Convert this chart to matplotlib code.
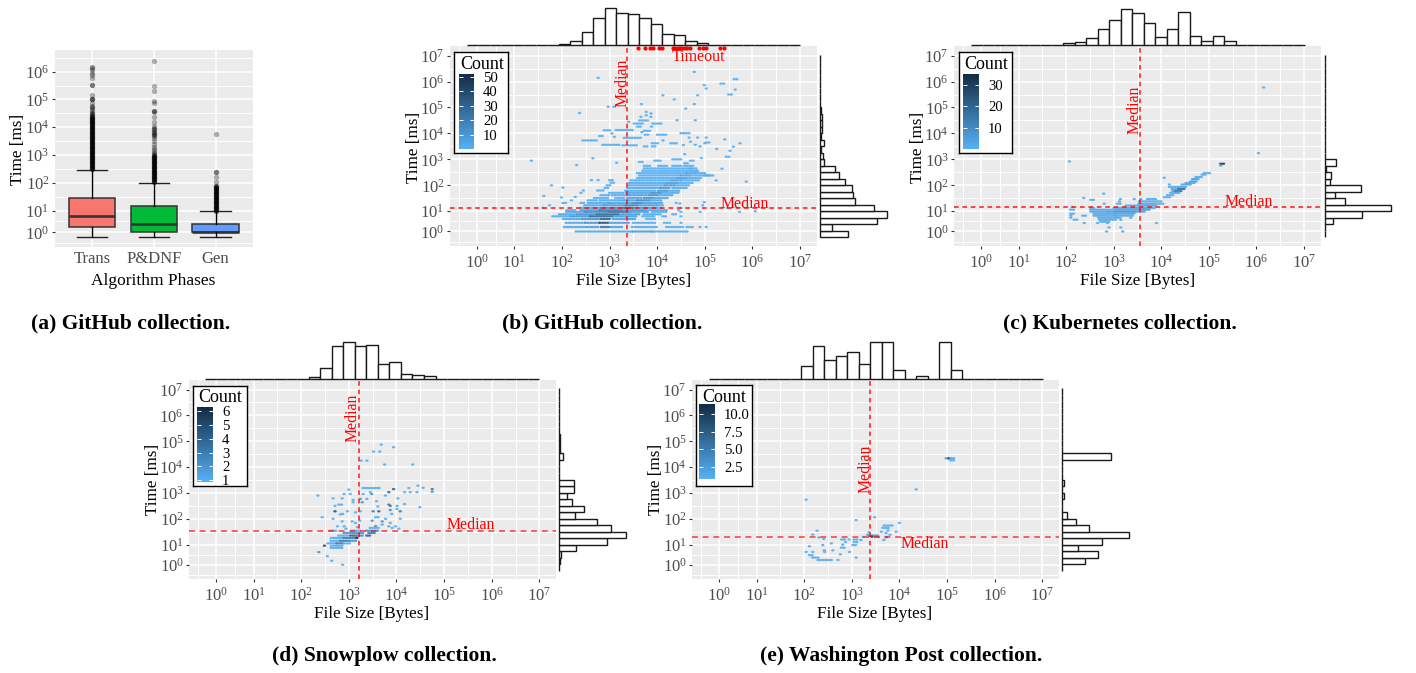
import numpy as np
import matplotlib
matplotlib.use("Agg")
import matplotlib.pyplot as plt
from matplotlib.colors import LinearSegmentedColormap, Normalize
from matplotlib.cm import ScalarMappable
from matplotlib.ticker import FixedLocator, FixedFormatter, NullFormatter

plt.rcParams['font.family'] = ['Liberation Serif', 'DejaVu Serif']
plt.rcParams['mathtext.fontset'] = 'custom'
plt.rcParams['mathtext.rm'] = 'Liberation Serif'
plt.rcParams['mathtext.it'] = 'Liberation Serif:italic'
plt.rcParams['mathtext.bf'] = 'Liberation Serif:bold'

# ---------- data: boxplot ----------
phases = ['Trans', 'P&DNF', 'Gen']
box_low = [0.59, 0.59, 0.59]
box_q1 = [1.74, 1.0, 1.0]
box_med = [5.5, 2.45, 1.03]
box_q3 = [29.5, 14.3, 2.45]
box_high = [295, 100, 9.2]
box_colors = ['#F8766D', '#00BA38', '#619CFF']
trans_out_log = [6.18, 6.12, 6.05, 5.94, 5.88, 5.76, 5.52, 5.52, 5.16, 5.02, 5.02, 5.02, 4.86, 4.78, 4.73, 4.68,
                 4.61, 4.56, 4.52, 4.48, 4.44, 4.4, 4.38, 4.36, 4.34, 4.32, 4.3, 4.28, 4.26, 4.24, 4.22, 4.2,
                 4.18, 4.16, 4.14, 4.12, 4.1, 4.08, 4.06, 4.04, 4.02, 4.0, 3.98, 3.96, 3.94, 3.92, 3.9, 3.88,
                 3.86, 3.84, 3.82, 3.8, 3.78, 3.76, 3.74, 3.72, 3.7, 3.68, 3.66, 3.64, 3.62, 3.6, 3.58, 3.56,
                 3.54, 3.52, 3.5, 3.48, 3.46, 3.44, 3.42, 3.4, 3.38, 3.36, 3.34, 3.32, 3.3, 3.28, 3.26, 3.24,
                 3.22, 3.2, 3.18, 3.16, 3.14, 3.12, 3.1, 3.08, 3.06, 3.04, 3.02, 3.0, 2.98, 2.96, 2.94, 2.92,
                 2.9, 2.88, 2.86, 2.84, 2.82, 2.8, 2.78, 2.76, 2.74, 2.72, 2.7, 2.68, 2.66, 2.64, 2.62, 2.6,
                 2.58, 2.56, 2.54, 2.52, 2.5, 2.48]
pdnf_out_log = [6.39, 5.49, 5.3, 4.95, 4.86, 4.57, 4.57, 4.55, 4.37, 4.19, 4.04, 3.98, 3.94, 3.89, 3.84, 3.8,
                3.75, 3.71, 3.68, 3.6, 3.5, 3.41, 3.3, 3.22, 3.14, 3.08, 3.04, 3.0, 2.98, 2.96, 2.94, 2.92, 2.9,
                2.88, 2.86, 2.84, 2.82, 2.8, 2.78, 2.76, 2.74, 2.72, 2.7, 2.68, 2.66, 2.64, 2.62, 2.6, 2.58, 2.56,
                2.54, 2.52, 2.5, 2.48, 2.46, 2.44, 2.42, 2.4, 2.38, 2.36, 2.34, 2.32, 2.3, 2.28, 2.26, 2.24, 2.22,
                2.2, 2.18, 2.16, 2.14, 2.12, 2.1, 2.08, 2.06, 2.04, 2.02]
gen_out_log = [3.76, 2.39, 2.39, 2.2, 2.02, 1.9, 1.88, 1.86, 1.84, 1.82, 1.8, 1.78, 1.76, 1.74, 1.72, 1.7, 1.68, 1.66,
               1.64, 1.62, 1.6, 1.58, 1.56, 1.54, 1.52, 1.5, 1.48, 1.46, 1.44, 1.42, 1.4, 1.38, 1.36, 1.34, 1.32,
               1.3, 1.28, 1.26, 1.24, 1.22, 1.2, 1.18, 1.16, 1.14, 1.12, 1.1, 1.08, 1.06, 1.04, 1.02, 1.0, 0.98]

# ---------- data: histograms (relative heights) ----------
b_top = [0, 0, 0, 0, 0, .5, .5, .5, 3, 12, 40, 80, 110, 97, 94, 81, 64, 34, 32, 13, 7, 2, 1, 1, 1, 1, 1, .5, .5]
b_right = [85, 35, 172, 200, 162, 105, 100, 95, 75, 57, 45, 12, 8, 3, 12, 4, 7, 7, 7, 3, 1, 1, 1, 1, 1, 1, 1, 1]
c_top = [0, 0, 0, 0, 0, 0, 0, 0, 7, 9, 22, 48, 74, 109, 95, 65, 24, 50, 100, 28, 13, 27, 12, 0, 0, 2, 0, 0, 0]
c_right = [2, 2, 26, 112, 200, 62, 32, 110, 17, 18, 3, 35, 1, .5, .5, .5, .5, .5, .5, .5, .5, 2, .5, .5, .5, .5, .5, .5]
d_top = [0, 0, 0, 0, 0, 0, 0, 0, 0, 4, 32, 97, 110, 98, 100, 44, 50, 14, 11, 7, 0, 0, 0, 0, 0, 0, 0, 0, 0]
d_right = [1, 2, 7, 52, 145, 200, 155, 114, 47, 76, 38, 25, 44, 44, 0, 0, 0, 12, 3, 4, 3, .5, .5, .5, .5, .5, .5, .5]
e_top = [0, 0, 0, 0, 0, 0, 0, 0, 38, 98, 56, 68, 80, 44, 110, 110, 26, 0, 8, 0, 110, 26, 0, 0, 0, 0, 0, 0, 0]
e_right = [0, 67, 108, 48, 120, 200, 80, 41, 15, 0, 0, 7, 0, 7, 0, 0, 0, 147, 0, 0, 0, 0, 0, 0, 0, 0, 0, 0]

# ---------- data: binned cells (log10 time, log10 size from, log10 size to, count) ----------
b_cells = [
    (0.00, 2.30, 3.5, 3), (0.00, 3.5, 3.9, 8), (0.00, 3.9, 4.65, 2),
    (0.22, 2.02, 2.5, 3), (0.22, 2.5, 2.8, 7), (0.22, 2.8, 3.0, 24), (0.22, 3.0, 3.28, 6), (0.22, 3.45, 4.0, 2),
    (0.22, 4.17, 4.55, 1), (0.22, 4.6, 4.75, 1), (0.22, 4.9, 4.9, 1), (0.22, 5.03, 5.03, 1),
    (0.43, 2.09, 2.5, 4), (0.43, 2.5, 2.8, 10), (0.43, 2.8, 3.0, 36), (0.43, 3.0, 3.4, 7), (0.43, 3.5, 3.95, 2),
    (0.43, 4.15, 4.3, 1), (0.43, 4.5, 4.5, 1),
    (0.62, 2.0, 2.4, 4), (0.62, 2.4, 2.8, 12), (0.62, 2.8, 3.05, 30), (0.62, 3.05, 3.55, 7), (0.62, 3.75, 4.0, 1),
    (0.75, 1.81, 2.2, 2), (0.75, 2.2, 2.6, 10), (0.75, 2.6, 3.1, 26), (0.75, 3.1, 3.6, 8), (0.75, 3.7, 3.95, 1),
    (0.75, 4.12, 4.2, 1), (0.75, 4.5, 4.5, 1),
    (0.85, 1.92, 2.3, 3), (0.85, 2.3, 2.7, 12), (0.85, 2.7, 3.2, 28), (0.85, 3.2, 3.65, 8), (0.85, 3.7, 4.1, 2),
    (0.85, 4.3, 4.4, 1),
    (0.97, 2.1, 2.5, 4), (0.97, 2.5, 3.0, 14), (0.97, 3.0, 3.4, 24), (0.97, 3.4, 3.8, 6), (0.97, 3.9, 4.2, 1),
    (0.97, 4.5, 4.5, 1), (0.97, 4.9, 4.9, 1), (0.97, 5.73, 5.73, 1), (1.0, 6.06, 6.06, 1),
    (1.04, 2.1, 2.3, 1), (1.04, 2.4, 2.8, 7), (1.04, 2.8, 3.3, 20), (1.04, 3.3, 3.8, 9), (1.04, 3.8, 4.2, 2),
    (1.04, 4.45, 4.5, 1),
    (1.13, 2.37, 2.8, 4), (1.13, 2.8, 3.3, 14), (1.13, 3.3, 3.55, 28), (1.13, 3.55, 4.0, 8), (1.13, 4.0, 4.1, 1),
    (1.13, 4.5, 4.5, 1), (1.13, 5.48, 5.48, 1), (1.13, 1.6, 1.6, 1),
    (1.23, 2.48, 2.9, 2), (1.23, 2.9, 3.35, 8), (1.23, 3.35, 3.6, 18), (1.23, 3.6, 4.0, 7), (1.23, 4.0, 4.12, 2),
    (1.23, 4.96, 4.97, 1), (1.23, 1.74, 1.74, 1), (1.3, 4.48, 4.48, 1),
    (1.32, 2.4, 2.5, 1), (1.32, 2.55, 3.0, 2), (1.32, 3.0, 3.5, 5), (1.32, 3.5, 3.7, 16), (1.32, 3.7, 4.12, 6),
    (1.32, 4.4, 4.45, 1), (1.35, 4.99, 4.99, 1), (1.32, 2.02, 2.08, 1),
    (1.42, 2.55, 2.75, 1), (1.42, 2.8, 3.3, 2), (1.42, 3.3, 3.6, 5), (1.42, 3.6, 3.85, 14), (1.42, 3.85, 4.12, 4),
    (1.42, 2.2, 2.25, 1),
    (1.51, 2.65, 3.0, 1), (1.51, 3.1, 3.35, 1), (1.51, 3.35, 3.7, 5), (1.51, 3.7, 3.9, 12), (1.51, 3.9, 4.26, 4),
    (1.53, 1.99, 1.99, 1), (1.59, 1.62, 1.62, 1), (1.55, 2.28, 2.28, 1),
    (1.62, 2.79, 3.0, 1), (1.62, 3.03, 3.4, 1), (1.62, 3.4, 3.8, 5), (1.62, 3.8, 4.0, 12), (1.62, 4.0, 4.36, 3),
    (1.71, 3.0, 3.28, 1), (1.71, 3.35, 3.9, 4), (1.71, 3.9, 4.1, 12), (1.71, 4.1, 4.47, 2), (1.71, 2.4, 2.45, 1),
    (1.79, 3.31, 4.0, 3), (1.79, 4.0, 4.2, 10), (1.79, 4.2, 4.47, 2), (1.8, 2.45, 2.5, 1), (1.8, 2.75, 2.9, 1),
    (1.9, 3.35, 4.05, 3), (1.9, 4.05, 4.3, 10), (1.9, 4.3, 4.61, 2), (1.91, 2.02, 2.02, 1), (1.9, 2.88, 3.0, 1),
    (2.0, 3.38, 4.15, 2), (2.0, 4.15, 4.35, 9), (2.0, 4.35, 4.68, 1), (2.0, 1.78, 1.78, 1), (2.0, 2.92, 3.05, 1),
    (2.09, 3.42, 4.2, 2), (2.09, 4.2, 4.45, 8), (2.09, 4.45, 4.75, 1), (2.1, 3.0, 3.1, 1),
    (2.19, 3.42, 4.3, 1), (2.19, 4.3, 4.5, 7), (2.19, 4.5, 4.89, 1), (2.19, 5.24, 5.24, 1), (2.2, 2.62, 2.62, 1),
    (2.2, 2.76, 2.76, 1), (2.2, 3.0, 3.08, 1), (2.14, 5.87, 5.87, 1),
    (2.28, 3.56, 4.4, 1), (2.28, 4.4, 4.6, 7), (2.28, 4.6, 4.96, 1),
    (2.38, 3.63, 4.5, 1), (2.38, 4.5, 4.7, 6), (2.38, 4.7, 5.1, 1), (2.38, 5.0, 5.2, 1),
    (2.47, 3.56, 4.6, 1), (2.47, 4.6, 4.8, 5), (2.47, 4.8, 5.03, 1),
    (2.56, 3.7, 4.65, 1), (2.56, 4.65, 4.85, 4), (2.56, 4.85, 4.89, 1),
    (2.65, 3.73, 4.7, 1), (2.65, 4.7, 4.85, 3), (2.64, 5.36, 5.36, 1),
    (2.75, 3.7, 3.85, 1), (2.75, 4.0, 4.2, 1), (2.75, 4.3, 4.5, 1), (2.75, 4.55, 4.75, 1),
    (2.78, 2.31, 2.31, 1), (2.87, 3.15, 3.15, 1), (2.95, 1.36, 1.36, 1), (3.04, 2.65, 2.65, 1),
    (2.9, 3.6, 3.7, 1), (2.95, 3.95, 4.1, 1), (3.0, 4.3, 4.5, 1), (2.95, 4.7, 4.8, 1), (2.85, 4.55, 4.65, 1),
    (3.1, 5.45, 5.55, 1), (3.05, 4.9, 4.98, 1), (3.2, 4.55, 4.6, 1), (3.33, 5.53, 5.53, 1), (3.49, 5.6, 5.6, 1),
    (3.62, 5.74, 5.74, 1), (3.4, 5.25, 5.25, 1), (3.77, 5.42, 5.42, 1), (3.62, 5.0, 5.0, 1), (3.5, 4.9, 4.9, 1),
    (3.56, 2.86, 3.2, 1), (3.54, 3.28, 3.6, 1), (3.5, 3.7, 3.8, 1), (3.62, 3.87, 4.05, 1), (3.5, 3.87, 4.0, 1),
    (3.62, 4.26, 4.4, 1), (3.68, 4.7, 4.7, 1), (3.55, 4.55, 4.55, 1), (3.56, 4.8, 4.85, 1), (3.65, 5.03, 5.1, 1),
    (3.73, 2.44, 2.75, 1), (3.83, 3.31, 3.66, 1), (3.87, 3.1, 3.1, 1), (3.9, 2.76, 2.85, 1), (3.95, 3.75, 3.85, 1),
    (3.95, 4.01, 4.19, 1), (4.01, 4.5, 4.68, 1), (3.84, 4.67, 4.67, 1), (3.84, 4.85, 4.85, 1), (3.84, 5.03, 5.03, 1),
    (3.73, 4.12, 4.12, 1), (4.1, 3.73, 3.87, 1), (4.12, 2.86, 3.0, 1), (4.13, 3.14, 3.49, 1), (4.05, 3.68, 3.68, 1),
    (4.0, 3.05, 3.05, 1), (4.26, 3.56, 3.66, 1), (4.26, 3.88, 3.88, 1), (4.38, 3.52, 3.73, 1), (4.38, 3.91, 4.12, 1),
    (4.45, 3.4, 3.4, 1), (4.5, 3.63, 3.8, 1), (4.51, 4.42, 4.42, 1), (4.51, 4.8, 4.8, 1), (4.64, 3.66, 3.66, 1),
    (4.64, 3.87, 3.87, 1), (4.7, 3.77, 3.77, 1), (4.77, 3.87, 3.87, 1), (4.83, 3.77, 3.77, 1), (4.79, 2.37, 2.37, 1),
    (4.96, 4.6, 4.6, 1), (5.03, 2.97, 2.97, 1), (5.03, 3.09, 3.09, 1), (5.13, 3.67, 3.67, 1), (5.13, 4.78, 4.78, 1),
    (5.31, 4.36, 4.36, 1), (5.47, 4.12, 4.12, 1), (5.47, 4.85, 4.85, 1), (5.5, 5.5, 5.57, 1), (5.69, 5.64, 5.64, 1),
    (5.73, 5.03, 5.06, 1), (5.86, 4.99, 4.99, 1), (5.92, 5.34, 5.45, 1), (6.09, 5.59, 5.71, 1), (6.14, 2.76, 2.76, 1),
    (6.37, 4.78, 4.78, 1),
]
b_timeouts = [3.59, 3.75, 3.85, 3.91, 4.03, 4.1, 4.33, 4.38, 4.43, 4.48, 4.53, 4.58, 4.63, 4.69, 4.87, 4.97, 5.03, 5.32, 5.41]

c_cells = [
    (2.92, 2.07, 2.07, 1), (2.83, 5.25, 5.34, 30), (2.76, 5.25, 5.25, 2), (2.29, 4.06, 4.06, 1), (3.24, 6.04, 6.04, 1),
    (5.77, 6.15, 6.15, 1),
    (2.47, 4.9, 5.02, 1), (2.41, 4.83, 4.94, 2), (2.32, 4.73, 4.87, 2), (2.24, 4.66, 4.8, 4), (2.15, 4.59, 4.76, 3),
    (2.09, 4.52, 4.69, 2), (2.03, 4.17, 4.17, 1), (2.03, 4.41, 4.62, 3), (1.94, 4.17, 4.52, 2),
    (1.86, 4.2, 4.34, 2), (1.86, 4.34, 4.48, 18), (1.78, 4.24, 4.3, 2), (1.78, 4.3, 4.45, 14), (1.71, 4.17, 4.38, 2),
    (1.62, 4.1, 4.27, 1), (1.54, 4.06, 4.2, 1), (1.68, 2.79, 2.79, 1), (1.51, 2.37, 2.37, 1),
    (1.47, 3.71, 3.92, 2), (1.47, 3.14, 3.14, 1), (1.47, 3.43, 3.43, 1), (1.47, 3.57, 3.57, 1), (1.44, 2.49, 2.59, 1),
    (1.38, 3.12, 3.12, 1), (1.38, 3.54, 4.03, 2), (1.29, 2.8, 2.8, 1), (1.29, 3.05, 3.15, 2), (1.29, 3.5, 4.06, 2),
    (1.22, 3.26, 3.4, 2), (1.22, 3.43, 3.92, 3), (1.13, 2.52, 2.63, 1), (1.13, 3.01, 3.89, 3), (1.16, 2.1, 2.17, 1),
    (1.06, 2.49, 3.1, 2), (1.06, 3.1, 3.6, 4), (1.06, 3.6, 3.75, 7), (1.06, 2.07, 2.17, 1),
    (0.98, 2.52, 2.9, 3), (0.98, 2.9, 3.05, 5), (0.98, 3.05, 3.47, 9), (0.98, 3.47, 3.64, 4),
    (0.88, 2.07, 2.17, 1), (0.88, 2.56, 3.0, 3), (0.88, 3.0, 3.47, 4), (0.78, 2.35, 2.42, 1), (0.78, 2.1, 2.13, 1),
    (0.78, 2.59, 3.05, 2), (0.78, 3.05, 3.4, 2), (0.68, 2.1, 2.1, 1), (0.68, 2.66, 3.15, 2), (0.68, 3.33, 3.4, 2),
    (0.58, 2.17, 2.28, 1), (0.58, 2.7, 3.05, 2), (0.58, 3.15, 3.19, 1), (0.48, 2.7, 2.91, 1), (0.42, 2.38, 2.42, 1),
    (0.42, 2.66, 2.66, 1), (0.42, 2.87, 2.91, 1), (0.42, 3.9, 3.9, 1), (0.2, 2.9, 2.9, 1), (0.2, 3.15, 3.15, 1),
    (0.0, 2.85, 2.85, 1), (0.0, 3.19, 3.19, 1),
]

d_cells = [
    (4.87, 3.68, 3.68, 1), (4.77, 3.94, 3.94, 1), (4.6, 3.52, 3.52, 1), (4.6, 3.65, 3.65, 1), (4.25, 3.26, 3.26, 1),
    (4.25, 3.38, 3.38, 1), (4.1, 3.75, 3.75, 1), (4.1, 4.34, 4.34, 1),
    (3.19, 3.27, 3.65, 1), (3.13, 3.0, 3.0, 1), (3.15, 4.75, 4.75, 3), (3.05, 4.75, 4.75, 2), (3.28, 4.45, 4.45, 1),
    (3.2, 4.56, 4.56, 1), (3.19, 4.26, 4.26, 1), (3.03, 4.17, 4.17, 1), (3.03, 4.29, 4.29, 1), (3.03, 4.43, 4.43, 1),
    (3.15, 3.94, 3.94, 4), (3.03, 3.84, 3.84, 4), (2.9, 3.77, 3.77, 1), (2.9, 2.35, 2.35, 1), (2.96, 2.9, 2.9, 1),
    (2.96, 3.03, 3.03, 1), (2.96, 3.3, 3.3, 1), (3.03, 3.45, 3.45, 1), (2.96, 3.48, 3.48, 2),
    (2.79, 2.67, 2.67, 1), (2.79, 2.86, 2.86, 1), (2.73, 3.09, 3.09, 1), (2.77, 3.24, 3.24, 2), (2.64, 3.28, 3.28, 2),
    (2.77, 3.38, 3.38, 1), (2.68, 3.58, 3.58, 1), (2.79, 4.03, 4.03, 1), (2.55, 2.79, 2.88, 1), (2.5, 2.71, 2.71, 1),
    (2.64, 3.09, 3.09, 1), (2.55, 3.84, 3.84, 3), (2.5, 3.87, 3.87, 3), (2.5, 4.01, 4.01, 1), (2.48, 3.61, 3.61, 1),
    (2.57, 4.17, 4.17, 1), (2.45, 4.49, 4.49, 1), (2.29, 2.71, 2.71, 5), (2.29, 2.97, 2.97, 1), (2.25, 3.14, 3.14, 1),
    (2.29, 3.24, 3.24, 1), (2.29, 3.51, 3.51, 3), (2.29, 3.63, 3.67, 4), (2.34, 3.87, 3.87, 2), (2.38, 4.01, 4.01, 1),
    (2.29, 4.08, 4.12, 3), (2.19, 2.87, 2.87, 1), (2.17, 2.82, 2.82, 1), (2.19, 3.9, 3.9, 1),
    (2.06, 2.44, 2.44, 1), (2.0, 2.67, 2.67, 1), (1.9, 2.86, 2.86, 1), (1.9, 3.07, 3.07, 1), (1.84, 3.14, 3.14, 1),
    (1.93, 3.23, 3.23, 1), (2.06, 3.56, 3.63, 1), (1.93, 3.49, 3.49, 2), (2.0, 3.77, 3.77, 1), (2.0, 4.08, 4.08, 1),
    (1.84, 3.87, 3.87, 1), (1.9, 3.7, 3.7, 2), (1.71, 2.76, 2.76, 1), (1.71, 2.9, 2.9, 1), (1.62, 2.94, 2.94, 1),
    (1.68, 3.18, 3.18, 1), (1.65, 3.42, 3.66, 1), (1.72, 3.56, 3.56, 2), (1.78, 3.7, 3.7, 1), (1.71, 3.84, 3.84, 1),
    (1.71, 3.98, 3.98, 1), (1.65, 3.91, 3.91, 1), (1.62, 4.05, 4.1, 1),
    (1.54, 2.58, 2.72, 1), (1.54, 3.03, 3.24, 1), (1.54, 3.35, 3.63, 2), (1.45, 2.9, 3.3, 2), (1.45, 3.42, 3.56, 3),
    (1.35, 2.76, 3.0, 1), (1.35, 3.0, 3.14, 4), (1.35, 3.14, 3.28, 2), (1.35, 3.35, 3.45, 4),
    (1.26, 2.63, 2.9, 1), (1.26, 2.9, 3.17, 3), (1.26, 3.17, 3.2, 6), (1.15, 2.6, 2.8, 1), (1.15, 2.8, 3.0, 3),
    (1.15, 3.0, 3.14, 2), (1.05, 2.56, 2.75, 1), (1.05, 2.75, 2.9, 3), (1.05, 2.9, 3.03, 1),
    (0.95, 2.46, 2.53, 5), (0.95, 2.6, 2.9, 1), (0.84, 2.63, 2.88, 1), (0.63, 2.37, 2.37, 2), (0.43, 2.55, 2.55, 1),
    (0.2, 2.64, 2.64, 1), (0.0, 2.87, 2.87, 1),
]

e_cells = [
    (4.34, 5.03, 5.03, 11), (4.34, 4.98, 5.0, 2), (4.34, 5.08, 5.19, 2), (4.26, 5.05, 5.15, 1), (3.14, 4.35, 4.35, 1),
    (2.74, 2.04, 2.04, 1), (1.95, 3.09, 3.09, 1), (2.06, 3.48, 3.48, 1), (1.84, 4.0, 4.0, 1),
    (1.74, 3.65, 3.9, 1), (1.65, 3.65, 3.8, 1), (1.55, 3.73, 3.8, 1), (1.5, 3.93, 3.93, 1), (1.5, 3.62, 3.62, 1),
    (1.45, 3.69, 3.76, 1), (1.38, 3.8, 3.8, 1), (1.3, 3.73, 3.76, 1), (1.18, 3.67, 3.67, 1), (1.28, 3.72, 3.72, 1),
    (1.54, 2.27, 2.27, 1), (1.39, 2.18, 2.18, 1), (1.28, 2.31, 2.31, 1), (1.22, 2.41, 2.41, 1), (1.05, 2.57, 2.57, 1),
    (0.98, 2.39, 2.39, 1), (0.92, 2.11, 2.11, 1), (0.72, 2.42, 2.42, 1), (0.72, 2.6, 2.6, 1), (0.64, 2.04, 2.04, 1),
    (0.64, 2.18, 2.18, 1), (0.64, 2.43, 2.43, 1), (0.52, 2.76, 2.76, 1), (0.64, 2.95, 2.95, 1), (0.36, 3.09, 3.09, 1),
    (0.24, 2.71, 2.71, 1), (0.48, 2.11, 2.22, 1), (0.36, 2.15, 2.32, 1), (0.24, 2.29, 2.6, 1),
    (1.2, 2.76, 2.87, 1), (1.2, 2.94, 2.94, 1), (1.1, 2.84, 2.9, 1), (1.0, 2.78, 2.84, 1), (0.85, 2.78, 2.84, 1),
    (1.2, 3.02, 3.12, 1), (1.1, 3.02, 3.12, 1), (0.98, 3.02, 3.12, 1), (1.18, 3.19, 3.19, 1), (1.3, 3.24, 3.24, 1),
    (1.38, 3.33, 3.33, 1), (1.48, 3.36, 3.36, 1), (1.35, 3.37, 3.58, 3), (1.31, 3.42, 3.42, 10), (1.3, 3.5, 3.6, 2),
]

medians = {'b': (3.36, 1.13), 'c': (3.55, 1.17), 'd': (3.22, 1.54), 'e': (3.38, 1.31)}
exponents_x = [0, 1, 2, 3, 4, 5, 6, 7]
exponents_y_a = [0, 1, 2, 3, 4, 5, 6]

# ---------- setup ----------
W, H = 1416, 673
fig = plt.figure(figsize=(W / 100, H / 100), dpi=100, facecolor='white')
BG = '#EBEBEB'
cmap = LinearSegmentedColormap.from_list('cnt', ['#56B1F7', '#132B43'])
SLOPE = 0.78


def fwd(v):
    l = np.log10(np.maximum(np.asarray(v, dtype=float), 1e-12))
    return np.where(l >= 1, l, 1 - SLOPE * (1 - l))


def inv(u):
    u = np.asarray(u, dtype=float)
    return 10 ** np.where(u >= 1, u, 1 - (1 - u) / SLOPE)


def ax_px(l, t, r, b, **kw):
    return fig.add_axes([l / W, 1 - b / H, (r - l) / W, (b - t) / H], **kw)


def ftext(x, y, s, **kw):
    if kw.get('rotation') == 90:
        x += 1.5
    else:
        y += 1.3
    fig.text(x / W, 1 - y / H, s, ha=kw.pop('ha', 'center'), va=kw.pop('va', 'center'), **kw)


def style_axis(ax, which, exps, size=12):
    axis = ax.xaxis if which == 'x' else ax.yaxis
    if which == 'x':
        ax.set_xscale('function', functions=(fwd, inv))
    else:
        ax.set_yscale('function', functions=(fwd, inv))
    maj = [10.0 ** e for e in exps]
    majp = sorted(float(fwd(m)) for m in maj)
    mids = [majp[0] - (majp[1] - majp[0]) / 2] + [(p + q) / 2 for p, q in zip(majp[:-1], majp[1:])]
    if which == 'y' and exps[-1] == 6:
        mids.append(6.5)
    axis.set_major_locator(FixedLocator(maj))
    axis.set_major_formatter(FixedFormatter([r'$\mathregular{10^{%d}}$' % e for e in exps]))
    axis.set_minor_locator(FixedLocator([float(inv(m)) for m in mids]))
    axis.set_minor_formatter(NullFormatter())
    ax.tick_params(axis=which, which='major', labelsize=size, labelcolor='#4D4D4D', color='#333333',
                   length=2.5, width=0.8, pad=3 if which == 'x' else 1.5)
    ax.tick_params(axis=which, which='minor', length=0)
    axis.grid(True, which='major', color='white', lw=1.15)
    axis.grid(True, which='minor', color='white', lw=0.7)


def base_axes(ax):
    ax.set_facecolor(BG)
    ax.set_axisbelow(True)
    for s in ax.spines.values():
        s.set_visible(False)


def expand(cells):
    xs, ys, cs = [], [], []
    levels = sorted({c[0] for c in cells})
    for ly, u0, u1, n in cells:
        off = 0.028 * (levels.index(ly) % 2)
        us = [u0] if u1 <= u0 else np.arange(u0 + off, u1 + 1e-6, 0.056)
        for u in us:
            xs.append(10.0 ** u)
            ys.append(10.0 ** ly)
            cs.append(n)
    return np.array(xs), np.array(ys), np.array(cs, dtype=float)


HEX = [(-1, 0), (-0.55, 0.6), (0.55, 0.6), (1, 0), (0.55, -0.6), (-0.55, -0.6)]


def hist_top(l, r, base, top_h, vals):
    ax = ax_px(l, base - top_h, r, base + 0.6)
    ax.axis('off')
    n = len(vals)
    ax.bar(np.arange(n) + 0.5, vals, width=1, color='white', edgecolor='#1a1a1a', lw=1.0, clip_on=False)
    ax.set_xlim(0, n)
    ax.set_ylim(-0.6, 110)


def hist_right(base, t, b, vals):
    ax = ax_px(base - 0.5, t, base + 200 / 3, b)
    ax.axis('off')
    n = len(vals)
    ax.barh(np.arange(n) + 0.5, vals, height=1, color='white', edgecolor='#1a1a1a', lw=1.0, clip_on=False)
    ax.set_ylim(0, n)
    ax.set_xlim(-1, 200)


def main_panel(box, cells, med, vmin, vmax, ticks, ticklabels, legend_box, bar, dashed_thick=False):
    ax = ax_px(*box)
    base_axes(ax)
    style_axis(ax, 'x', exponents_x)
    style_axis(ax, 'y', exponents_x)
    ax.set_xlim(float(inv(-0.35)), float(inv(7.35)))
    ax.set_ylim(float(inv(-0.34)), float(inv(7.37)))
    xs, ys, cs = expand(cells)
    ax.scatter(xs, ys, c=cs, cmap=cmap, vmin=vmin, vmax=vmax, marker=HEX, s=7, linewidths=0, zorder=3, alpha=0.9)
    mx, my = med
    ax.axvline(10 ** mx, color='red', lw=1.1, ls=(0, (3, 2.5)), zorder=4, alpha=0.9)
    ax.axhline(10 ** my, color='red', lw=1.4 if dashed_thick else 1.1, ls=(0, (3, 2.5)), zorder=4,
               alpha=0.6 if dashed_thick else 0.9)
    lg = ax_px(*legend_box)
    lg.set_xticks([])
    lg.set_yticks([])
    lg.set_zorder(6)
    for s in lg.spines.values():
        s.set_linewidth(1.0)
    ftext((legend_box[0] + legend_box[2]) / 2 + 0.5, legend_box[1] + 11, 'Count', fontsize=13, zorder=8)
    cax = ax_px(*bar)
    cax.set_zorder(7)
    sm = ScalarMappable(norm=Normalize(vmin, vmax), cmap=cmap)
    cb = fig.colorbar(sm, cax=cax, ticks=ticks)
    cb.outline.set_visible(False)
    cb.ax.set_yticklabels(ticklabels)
    cax.tick_params(axis='y', which='major', direction='in', length=3, width=0.7, color='white',
                    left=True, right=True, labelsize=10.6, pad=6.5, labelcolor='black')
    cax.minorticks_off()
    return ax


# ---------- panel (a) ----------
ax = ax_px(55, 50, 252.7, 246.7)
base_axes(ax)
style_axis(ax, 'y', exponents_y_a, size=12)
stats = []
for nm, lo, q1, md, q3, hi, out in zip(phases, box_low, box_q1, box_med, box_q3, box_high,
                                       [trans_out_log, pdnf_out_log, gen_out_log]):
    stats.append(dict(label=nm, whislo=lo, q1=q1, med=md, q3=q3, whishi=hi, fliers=[10.0 ** o for o in out]))
art = ax.bxp(stats, positions=[1, 2, 3], widths=0.75, capwidths=0.49, patch_artist=True,
             boxprops=dict(edgecolor='#333333', lw=1.1), medianprops=dict(color='#333333', lw=1.9),
             whiskerprops=dict(color='black', lw=1.0), capprops=dict(color='#222222', lw=1.0),
             flierprops=dict(marker='o', markersize=3.8, markerfacecolor='black', markeredgecolor='none', alpha=0.3))
for p, c in zip(art['boxes'], box_colors):
    p.set_facecolor(c)
for w in art['whiskers']:
    w.set_zorder(4)
ax.set_xlim(0.4, 3.6)
ax.set_ylim(float(inv(-0.30)), float(inv(6.78)))
ax.set_xticks([1, 2, 3])
ax.set_xticklabels(phases)
ax.tick_params(axis='x', labelsize=12, labelcolor='#4D4D4D', length=0, pad=3)
ax.xaxis.grid(True, color='white', lw=1.15)
ftext(153.3, 279.3, 'Algorithm Phases', fontsize=12.5)
ftext(16.7, 149.3, 'Time [ms]', fontsize=12.3, rotation=90)
ftext(130.7, 322, '(a) GitHub collection.', fontsize=15.5, fontweight='bold')

# ---------- panel (b) ----------
ax = main_panel((450, 46, 816.7, 246), b_cells, medians['b'], 0, 52, [10, 20, 30, 40, 50],
                ['10', '20', '30', '40', '50'], (454.3, 52.3, 508.3, 152.7), (459, 74, 474, 149))
ax.scatter([10.0 ** u for u in b_timeouts], [10.0 ** 7.31] * len(b_timeouts), s=9, color='red', linewidths=0,
           clip_on=False, zorder=5)
hist_top(466.7, 800, 45, 110 / 3, b_top)
hist_right(820, 55, 237.3, b_right)
ftext(633.3, 279.3, 'File Size [Bytes]', fontsize=12.3)
ftext(413, 147, 'Time [ms]', fontsize=12.3, rotation=90)
ftext(620.7, 83.3, 'Median', color='red', fontsize=11.4, rotation=90, zorder=9)
ftext(745, 202.3, 'Median', color='red', fontsize=11.4, zorder=9)
ftext(698.3, 56, 'Timeout', color='red', fontsize=11.4, zorder=9)
ftext(602, 322, '(b) GitHub collection.', fontsize=15.5, fontweight='bold')

# ---------- panel (c) ----------
main_panel((954.3, 46, 1320.7, 246), c_cells, medians['c'], 0, 35, [10, 20, 30], ['10', '20', '30'],
           (959, 52.3, 1012.3, 152.7), (963.3, 74, 979, 149))
hist_top(971, 1305, 45, 110 / 3, c_top)
hist_right(1324.7, 55, 237.3, c_right)
ftext(1137.3, 279.3, 'File Size [Bytes]', fontsize=12.3)
ftext(916.7, 147, 'Time [ms]', fontsize=12.3, rotation=90)
ftext(1132.7, 109.7, 'Median', color='red', fontsize=11.4, rotation=90, zorder=9)
ftext(1249, 201, 'Median', color='red', fontsize=11.4, zorder=9)
ftext(1120, 322, '(c) Kubernetes collection.', fontsize=15.5, fontweight='bold')

# ---------- panel (d) ----------
main_panel((189.3, 380, 556, 579.3), d_cells, medians['d'], 0.88, 6.26, [1, 2, 3, 4, 5, 6],
           ['1', '2', '3', '4', '5', '6'], (193.3, 385.7, 246.7, 485.7), (197.3, 407.3, 213, 482), dashed_thick=True)
hist_top(205, 539.3, 378.3, 110 / 3, d_top)
hist_right(559, 388.3, 570.7, d_right)
ftext(371.7, 612.3, 'File Size [Bytes]', fontsize=12.3)
ftext(151.7, 479, 'Time [ms]', fontsize=12.3, rotation=90)
ftext(350.7, 418, 'Median', color='red', fontsize=11.4, rotation=90, zorder=9)
ftext(471, 523.3, 'Median', color='red', fontsize=11.4, zorder=9)
ftext(384, 655, '(d) Snowplow collection.', fontsize=15.5, fontweight='bold')

# ---------- panel (e) ----------
main_panel((692.3, 380, 1059, 579.3), e_cells, medians['e'], 0.73, 11.5, [2.5, 5.0, 7.5, 10.0],
           ['2.5', '5.0', '7.5', '10.0'], (695.7, 385, 751.7, 486.3), (699, 404, 715, 479), dashed_thick=True)
hist_top(709, 1042.7, 378.3, 110 / 3, e_top)
hist_right(1062.3, 388.3, 570.7, e_right)
ftext(875, 612.3, 'File Size [Bytes]', fontsize=12.3)
ftext(655, 479, 'Time [ms]', fontsize=12.3, rotation=90)
ftext(864.3, 468.7, 'Median', color='red', fontsize=11.4, rotation=90, zorder=9)
ftext(925, 542.3, 'Median', color='red', fontsize=11.4, zorder=9)
ftext(901, 655, '(e) Washington Post collection.', fontsize=15.5, fontweight='bold')

fig.savefig('out.png', dpi=100, facecolor='white')
